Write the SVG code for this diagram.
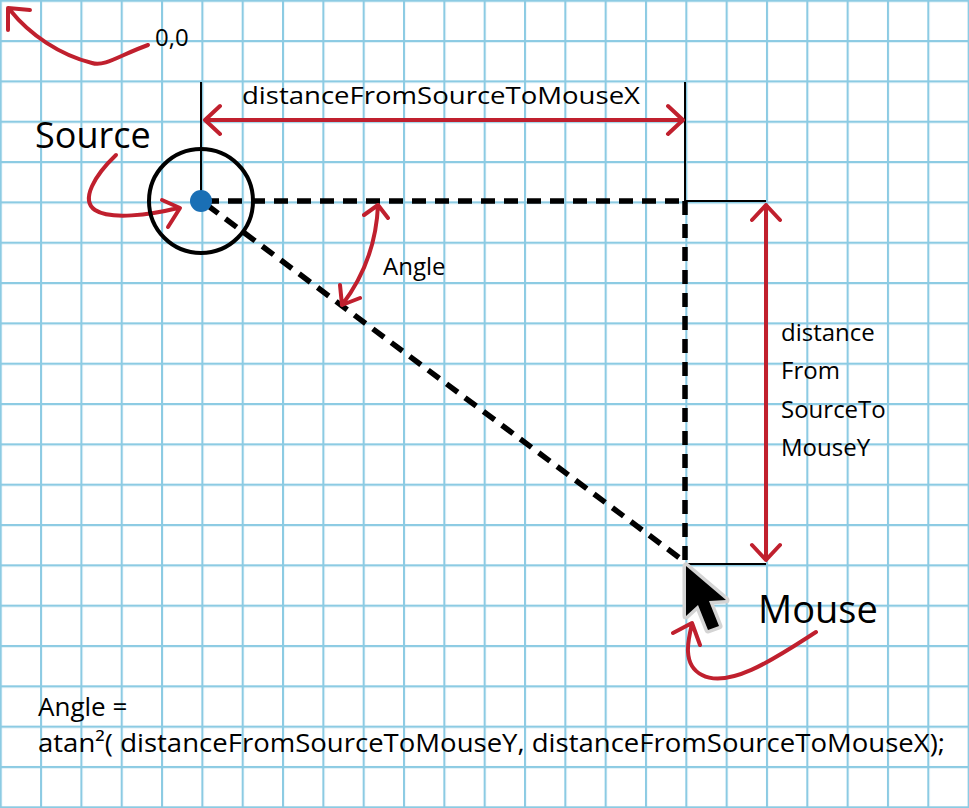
<svg xmlns="http://www.w3.org/2000/svg" width="969" height="808" viewBox="0 0 969 808">
<defs>
<pattern id="grid" width="40.33" height="40.33" patternUnits="userSpaceOnUse" x="-0.3" y="-0.3">
<path d="M1,0V40.33M0,1H40.33" stroke="#8ccbe3" stroke-width="2.2" fill="none"/>
</pattern>
</defs>
<style>
text{font-family:"Open Sans","Liberation Sans",sans-serif;fill:#000}
.red{stroke:#c0202e;stroke-width:4;fill:none;stroke-linecap:round;stroke-linejoin:round}
.thin{stroke:#000;stroke-width:2;fill:none}
.dash{stroke:#000;stroke-width:5.5;stroke-dasharray:14 9;fill:none}
</style>
<rect width="969" height="808" fill="#fff"/>
<rect width="969" height="808" fill="url(#grid)"/>
<g id="connectors">
<path class="thin" d="M201,82V201M685,82V201M685,201H766M685,564H766"/>
<path class="dash" d="M205,201H685M685,201V560M207,205L685,562"/>
<path class="red" d="M205,120H683M220,106L205,120L220,134M668,106L683,120L668,134"/>
<path class="red" d="M766,205V560M752,220L766,205L780,220M752,545L766,560L780,545"/>
<path class="red" d="M378,205A177,177 0 0 1 342,305M364,215L378,205L388,218M340,285L342,305L360,298"/>
<path class="red" d="M148,45C120,55 105,67 92,63C60,55 30,35 10,10M8,30L8,8L30,10"/>
<path class="red" d="M116,155C95,175 80,200 95,210C110,220 150,215 178,208M162,200L180,208L168,227"/>
<path class="red" d="M816,632C780,655 730,690 702,675C682,665 688,640 692,624M673,633L692,623L700,645"/>
</g>
<g id="source">
<circle cx="201" cy="201" r="52" fill="none" stroke="#000" stroke-width="4"/>
<circle cx="201" cy="201" r="11" fill="#1a6fb5"/>
<text x="35" y="148" font-size="36">Source</text>
</g>
<g id="origin"><text x="155" y="46" font-size="24">0,0</text></g>
<g id="labelX"><text x="242" y="104" font-size="24" textLength="398" lengthAdjust="spacingAndGlyphs">distanceFromSourceToMouseX</text></g>
<g id="angle"><text x="383" y="275" font-size="24">Angle</text></g>
<g id="labelY">
<text x="781" y="341" font-size="24">distance</text>
<text x="781" y="379" font-size="24">From</text>
<text x="781" y="418" font-size="24">SourceTo</text>
<text x="781" y="456" font-size="24">MouseY</text>
</g>
<g id="mouse">
<polygon points="686,566 686,616 698,605 708,630 719,626 709,601 726,600" fill="#000" stroke="#d4d4d4" stroke-width="7" stroke-linejoin="round" paint-order="stroke"/>
<text x="758" y="623" font-size="38">Mouse</text>
</g>
<g id="formula">
<text x="38" y="716" font-size="26">Angle =</text>
<text x="38" y="752" font-size="26" textLength="907" lengthAdjust="spacingAndGlyphs">atan²( distanceFromSourceToMouseY, distanceFromSourceToMouseX);</text>
</g>
</svg>
